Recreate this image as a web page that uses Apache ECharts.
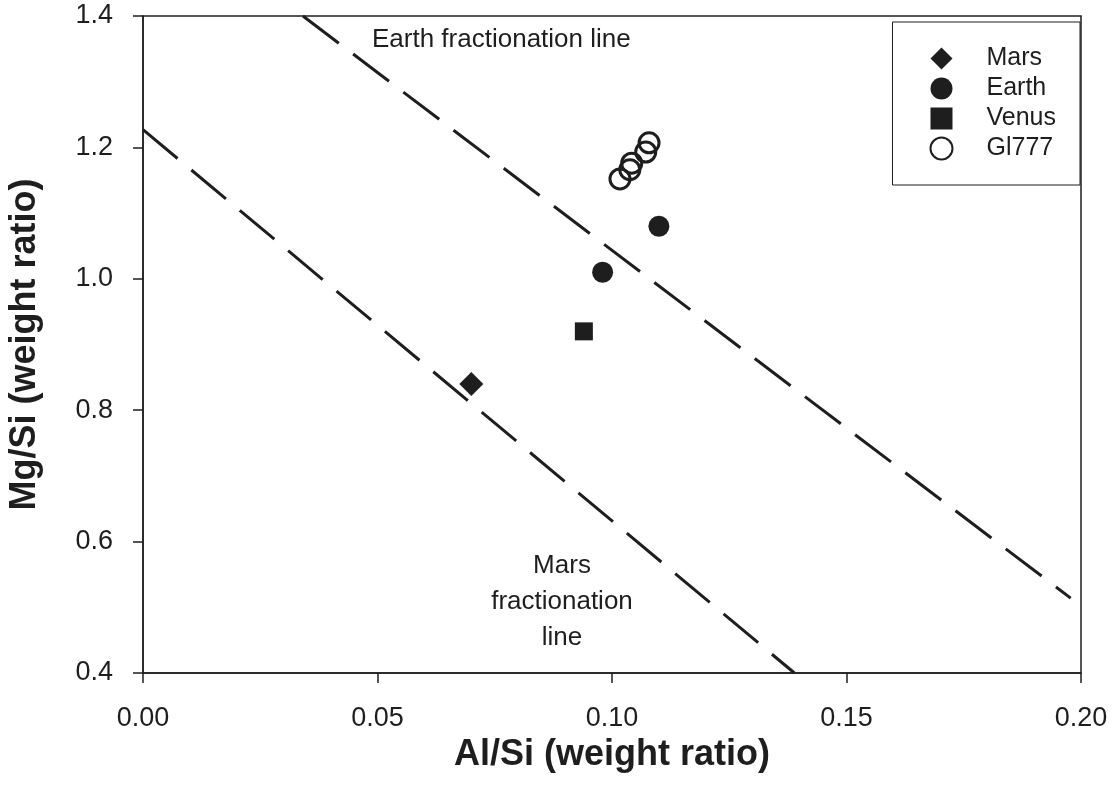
<!DOCTYPE html>
<html>
<head>
<meta charset="utf-8">
<script src="https://cdn.jsdelivr.net/npm/echarts@6/dist/echarts.min.js"></script>
<style>
html,body{margin:0;padding:0;background:#fff;}
#chart{width:1112px;height:800px;}
</style>
</head>
<body>
<div id="chart"></div>
<script>
// Data
const marsPoints = [[0.070, 0.84]];
const earthPoints = [[0.098, 1.01], [0.110, 1.08]];
const venusPoints = [[0.094, 0.92]];
const gl777Points = [[0.1017, 1.152], [0.1038, 1.166], [0.1042, 1.176], [0.1072, 1.193], [0.1079, 1.207]];
const earthLine = [[0.0341, 1.4], [0.1978, 0.514]];
const marsLine = [[0.0, 1.227], [0.1389, 0.4]];
const xTicks = [0, 0.05, 0.10, 0.15, 0.20];
const yTicks = [0.4, 0.6, 0.8, 1.0, 1.2, 1.4];

const FONT = 'Liberation Sans, Arial, sans-serif';
const INK = '#1e1e1e';

const chart = echarts.init(document.getElementById('chart'));
chart.setOption({
  animation: false,
  backgroundColor: '#fff',
  grid: {
    left: 143, right: 31, top: 16, bottom: 127,
    containLabel: false, outerBoundsMode: 'none',
    show: true, borderColor: INK, borderWidth: 1.5, backgroundColor: 'transparent'
  },
  xAxis: {
    type: 'value', min: xTicks[0], max: xTicks[xTicks.length - 1], interval: 0.05,
    name: 'Al/Si (weight ratio)', nameLocation: 'middle', nameGap: 62,
    nameTextStyle: { fontFamily: FONT, fontSize: 36, fontWeight: 'bold', color: INK },
    axisLine: { show: true, onZero: false, lineStyle: { color: INK, width: 1.5 } },
    axisTick: { show: true, inside: false, length: 10, lineStyle: { color: INK, width: 1.5 } },
    axisLabel: { fontFamily: FONT, fontSize: 27, color: INK, margin: 32,
      formatter: v => v.toFixed(2) },
    splitLine: { show: false }
  },
  yAxis: {
    type: 'value', min: yTicks[0], max: yTicks[yTicks.length - 1], interval: 0.2,
    name: 'Mg/Si (weight ratio)', nameLocation: 'middle', nameGap: 100,
    nameTextStyle: { fontFamily: FONT, fontSize: 36, fontWeight: 'bold', color: INK },
    axisLine: { show: true, onZero: false, lineStyle: { color: INK, width: 1.5 } },
    axisTick: { show: true, inside: false, length: 10, lineStyle: { color: INK, width: 1.5 } },
    axisLabel: { fontFamily: FONT, fontSize: 27, color: INK, margin: 30,
      formatter: v => v.toFixed(1) },
    splitLine: { show: false }
  },
  legend: {
    orient: 'vertical', right: 32, top: 22,
    borderColor: INK, borderWidth: 1, borderRadius: 0,
    padding: [24, 24, 24, 37],
    itemWidth: 22, itemHeight: 22, itemGap: 5,
    textStyle: { fontFamily: FONT, fontSize: 25, color: INK, padding: [0, 0, 0, 29] },
    data: ['Mars', 'Earth', 'Venus', 'Gl777']
  },
  series: [
    {
      type: 'line', name: 'earthLine', data: earthLine, symbol: 'none', clip: true,
      lineStyle: { color: INK, width: 3, type: [45, 18] }, silent: true
    },
    {
      type: 'line', name: 'marsLine', data: marsLine, symbol: 'none', clip: true,
      lineStyle: { color: INK, width: 3, type: [45, 18] }, silent: true
    },
    {
      type: 'scatter', name: 'Mars', data: marsPoints, symbol: 'diamond', symbolSize: 24,
      itemStyle: { color: INK, opacity: 1 }
    },
    {
      type: 'scatter', name: 'Earth', data: earthPoints, symbol: 'circle', symbolSize: 21,
      itemStyle: { color: INK, opacity: 1 }
    },
    {
      type: 'scatter', name: 'Venus', data: venusPoints, symbol: 'rect', symbolSize: 18,
      itemStyle: { color: INK, opacity: 1 }
    },
    {
      type: 'scatter', name: 'Gl777', data: gl777Points, symbol: 'circle', symbolSize: 20,
      itemStyle: { color: 'rgba(255,255,255,0)', borderColor: INK, borderWidth: 3, opacity: 1 }
    }
  ],
  graphic: [
    { type: 'text', left: 372, top: 27,
      style: { text: 'Earth fractionation line', fontFamily: FONT, fontSize: 26, fill: INK } },
    { type: 'text', x: 562, y: 548,
      style: { text: 'Mars\nfractionation\nline', fontFamily: FONT, fontSize: 26, fill: INK,
        align: 'center', lineHeight: 36 } }
  ]
});
</script>
</body>
</html>
